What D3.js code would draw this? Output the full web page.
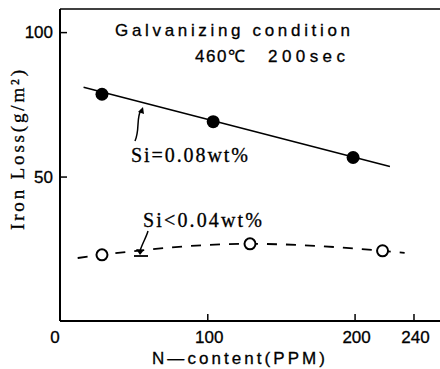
<!DOCTYPE html>
<html><head><meta charset="utf-8">
<script src="https://cdn.jsdelivr.net/npm/d3@7"></script>
<style>body{margin:0;background:#fff}svg{display:block}</style>
</head><body>
<script>
const xTicks = [0, 100, 200, 240];
const yTicks = [50, 100];
const si008N = [28.5, 104, 199];
const si008Loss = [78.5, 69, 56.6];
const si008FitN = [16, 224];
const si008FitLoss = [80.9, 53.5];
const si004N = [28.5, 129, 219];
const si004Loss = [22.9, 26.7, 24.3];
const si004CurveN = [12, 28.5, 129, 219, 234];
const si004CurveLoss = [21.8, 22.9, 26.7, 24.3, 23.6];

const W = 440, H = 369;
const svg = d3.select("body").append("svg").attr("width", W).attr("height", H);
const x = d3.scaleLinear().domain([0, 258]).range([60, 440]);
const y = d3.scaleLinear().domain([0, 108]).range([321, 9]);

// frame
svg.append("line").attr("x1", 60).attr("x2", 440).attr("y1", 9).attr("y2", 9).attr("stroke", "#000").attr("stroke-width", 1.5);

const xAxis = svg.append("g").attr("transform", `translate(0,${y(0)})`)
  .call(d3.axisBottom(x).tickValues(xTicks).tickSize(-7).tickFormat(""));
xAxis.select(".domain").attr("d", `M60,0H440`).attr("stroke-width", 2);
xAxis.selectAll(".tick line").attr("stroke-width", 1.5);
xAxis.selectAll(".tick").filter(d => d === 0).select("line").remove();

const yAxis = svg.append("g").attr("transform", `translate(60,0)`)
  .call(d3.axisLeft(y).tickValues(yTicks).tickSize(-7).tickFormat(""));
yAxis.select(".domain").attr("d", `M0,9V321`).attr("stroke-width", 2);
yAxis.selectAll(".tick line").attr("stroke-width", 1.5);

// tick labels
const lblFont = "Liberation Sans, Arial, sans-serif";
const serif = "Liberation Serif, Times New Roman, serif";
svg.selectAll(".xl").data(xTicks).enter().append("text")
  .attr("x", d => d === 0 ? x(d) - 5 : x(d) + 2).attr("y", 343)
  .attr("text-anchor", "middle").attr("font-family", lblFont).attr("font-size", 17)
  .attr("stroke", "#000").attr("stroke-width", 0.3)
  .text(d => d);
svg.selectAll(".yl").data(yTicks).enter().append("text")
  .attr("x", 53).attr("y", d => y(d) + 6)
  .attr("text-anchor", "end").attr("font-family", lblFont).attr("font-size", 17)
  .attr("stroke", "#000").attr("stroke-width", 0.3)
  .text(d => d);

// axis titles
svg.append("text").attr("x", 152).attr("y", 364)
  .attr("font-family", lblFont).attr("font-size", 17)
  .attr("textLength", 173).attr("lengthAdjust", "spacing")
  .attr("stroke", "#000").attr("stroke-width", 0.3)
  .text("N\u2014content(PPM)");
svg.append("text").attr("transform", "translate(24,230) rotate(-90)")
  .attr("font-family", serif).attr("font-size", 19)
  .attr("textLength", 160).attr("lengthAdjust", "spacing")
  .attr("stroke", "#000").attr("stroke-width", 0.3)
  .text("Iron Loss(g/m²)");

// header texts
svg.append("text").attr("x", 115).attr("y", 36).attr("font-family", lblFont).attr("font-size", 17)
  .attr("textLength", 235).attr("lengthAdjust", "spacing")
  .attr("stroke", "#000").attr("stroke-width", 0.3)
  .text("Galvanizing condition");
svg.append("text").attr("x", 195).attr("y", 62).attr("font-family", lblFont).attr("font-size", 17)
  .attr("textLength", 50).attr("lengthAdjust", "spacing")
  .attr("stroke", "#000").attr("stroke-width", 0.3)
  .text("460℃");
svg.append("text").attr("x", 268).attr("y", 62).attr("font-family", lblFont).attr("font-size", 17)
  .attr("textLength", 77).attr("lengthAdjust", "spacing")
  .attr("stroke", "#000").attr("stroke-width", 0.3)
  .text("200sec");

// Si=0.08 line and points
svg.append("line").attr("x1", x(si008FitN[0])).attr("y1", y(si008FitLoss[0]))
  .attr("x2", x(si008FitN[1])).attr("y2", y(si008FitLoss[1]))
  .attr("stroke", "#000").attr("stroke-width", 1.6);
svg.selectAll(".p8").data(si008N).enter().append("circle")
  .attr("cx", d => x(d)).attr("cy", (d, i) => y(si008Loss[i])).attr("r", 6.5).attr("fill", "#000");

// Si<0.04 dashed curve and open points
const line = d3.line().x(d => x(d[0])).y(d => y(d[1])).curve(d3.curveMonotoneX);
svg.append("path").datum(si004CurveN.map((n, i) => [n, si004CurveLoss[i]]))
  .attr("d", line).attr("fill", "none").attr("stroke", "#000").attr("stroke-width", 1.8)
  .attr("stroke-dasharray", "10,9");
svg.selectAll(".p4").data(si004N).enter().append("circle")
  .attr("cx", d => x(d)).attr("cy", (d, i) => y(si004Loss[i])).attr("r", 5.5)
  .attr("fill", "#fff").attr("stroke", "#000").attr("stroke-width", 2);

// labels
svg.append("text").attr("x", 131).attr("y", 162).attr("font-family", serif).attr("font-size", 20)
  .attr("textLength", 117).attr("lengthAdjust", "spacing")
  .attr("stroke", "#000").attr("stroke-width", 0.3)
  .text("Si=0.08wt%");
svg.append("text").attr("x", 143).attr("y", 227).attr("font-family", serif).attr("font-size", 20)
  .attr("textLength", 119).attr("lengthAdjust", "spacing")
  .attr("stroke", "#000").attr("stroke-width", 0.3)
  .text("Si<0.04wt%");

// leaders
svg.append("path").attr("d", "M135,141 C140,130 136,118 141,110").attr("fill", "none")
  .attr("stroke", "#000").attr("stroke-width", 1.5);
svg.append("path").attr("d", "M138,112 L143,107 L144,114 Z").attr("fill", "#000");
svg.append("path").attr("d", "M148,231 C146,238 142,244 140,251").attr("fill", "none")
  .attr("stroke", "#000").attr("stroke-width", 1.5);
svg.append("path").attr("d", "M136,249 L140,255 L144,250 Z").attr("fill", "#000");
svg.append("line").attr("x1", 134).attr("x2", 148).attr("y1", 256).attr("y2", 256).attr("stroke", "#000").attr("stroke-width", 1.8);
</script>
</body></html>
